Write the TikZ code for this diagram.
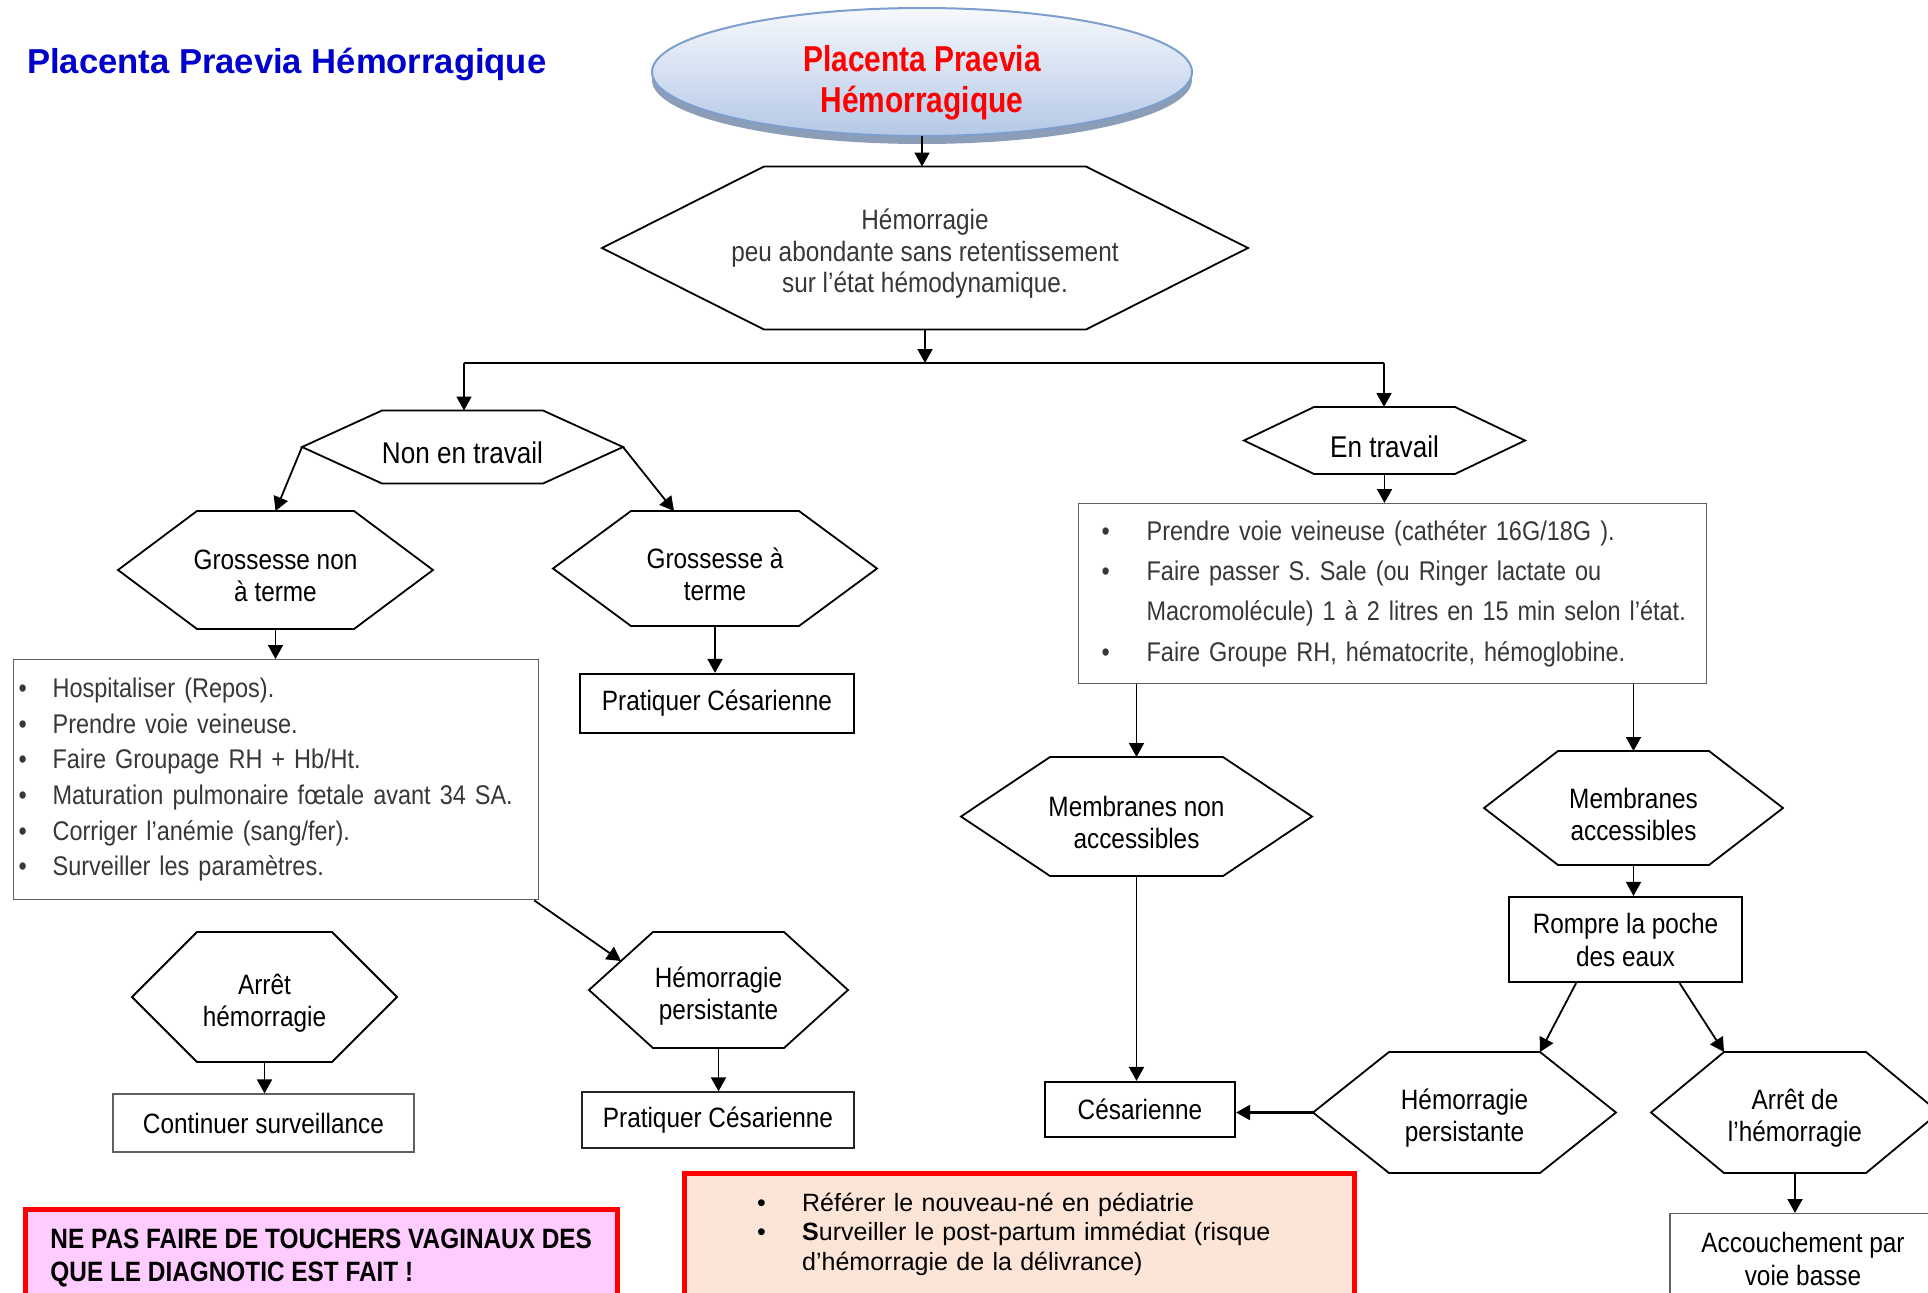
\documentclass[tikz,border=0pt]{standalone}
\usepackage{fontspec}
\setmainfont{Liberation Sans}[FakeStretch=0.87]
\newfontfamily\plainsans{Liberation Sans}
\newfontfamily\redsans{Liberation Sans}[FakeStretch=0.83]
\usetikzlibrary{arrows.meta,shapes.geometric,shadows,calc}

\definecolor{titleblue}{RGB}{0,0,204}
\definecolor{pinkfill}{RGB}{255,204,255}
\definecolor{peachfill}{RGB}{252,229,214}
\definecolor{ellborder}{RGB}{126,158,206}
\definecolor{elltop}{RGB}{246,249,253}
\definecolor{ellbottom}{RGB}{180,200,230}
\definecolor{ellshadow}{RGB}{128,146,176}
\definecolor{textgray}{RGB}{55,55,55}

% hexagon: [node options]{name}{cx}{cy}{half width}{inset}{half height}{text}
\newcommand{\flowhex}[8][]{%
  \coordinate (#2-w) at ({#3-#5},#4);
  \coordinate (#2-e) at ({#3+#5},#4);
  \coordinate (#2-nw) at ({#3-#5+#6},{#4-#7});
  \coordinate (#2-ne) at ({#3+#5-#6},{#4-#7});
  \coordinate (#2-se) at ({#3+#5-#6},{#4+#7});
  \coordinate (#2-sw) at ({#3-#5+#6},{#4+#7});
  \coordinate (#2-n) at (#3,{#4-#7});
  \coordinate (#2-s) at (#3,{#4+#7});
  \draw[hexline] (#2-w) -- (#2-nw) -- (#2-ne) -- (#2-e) -- (#2-se) -- (#2-sw) -- cycle;
  \node[hexlabel,#1] (#2) at (#3,#4) {#8};
}
\newcommand{\puce}[1]{\makebox[#1][l]{•}}

\begin{document}
\begin{tikzpicture}[x=1pt,y=-1pt,
  hexline/.style={draw=black,line width=1.8pt,line join=miter},
  hexlabel/.style={font=\fontsize{28}{32}\selectfont,align=center,inner sep=0pt,yshift=-6pt},
  fleche/.style={-{Triangle[length=14pt,width=15pt]},line width=1.8pt},
  boite/.style={draw=black,line width=2.2pt,inner sep=0pt,font=\fontsize{28}{33}\selectfont,align=center},
  boitegrise/.style={draw=gray!75!black,line width=1.2pt,inner sep=0pt,font=\fontsize{28}{33}\selectfont,align=center},
  liste/.style={draw=gray!75!black,line width=1.2pt,anchor=north west,align=left,text=textgray}]

\useasboundingbox (0,0) rectangle (1928,1293);
\clip (0,0) rectangle (1928,1293);

% title and top ellipse
\node[anchor=west,inner sep=0pt,text=titleblue,font=\plainsans\bfseries\fontsize{34.6}{40}\selectfont] (ttl) at (27,64) {Placenta Praevia Hémorragique};

\node[ellipse,minimum width=540pt,minimum height=128pt,inner sep=0pt,outer sep=0pt,
  draw=ellborder,line width=2pt,top color=elltop,bottom color=ellbottom,
  drop shadow={shadow xshift=0pt,shadow yshift=-8pt,fill=ellshadow,opacity=0.9}] (pp) at (922,72) {};
\node[align=center,inner sep=0pt,text=red,font=\redsans\bfseries\fontsize{36}{41}\selectfont] (ppt) at (922,83) {Placenta Praevia\\Hémorragique};

% hexagons
\flowhex[text=textgray,font=\fontsize{28}{31.5}\selectfont]{hem}{925}{248}{323}{162}{81.5}{Hémorragie\\peu abondante sans retentissement\\sur l’état hémodynamique.}
\flowhex[font=\fontsize{30}{34}\selectfont]{net}{462.5}{447}{160.5}{80}{36.5}{Non en travail}
\flowhex{gnt}{275.5}{570}{157.5}{79}{59}{Grossesse non\\à terme}
\flowhex{gat}{715}{568.5}{162}{78}{57.5}{Grossesse à\\terme}
\flowhex{ah}{264.5}{997}{132.5}{65}{65}{Arrêt\\hémorragie}
\flowhex{hp1}{718.5}{990}{129.5}{64}{58}{Hémorragie\\persistante}
\flowhex[font=\fontsize{30}{34}\selectfont]{et}{1384.5}{440.5}{140.5}{70}{33.5}{En travail}
\flowhex{mna}{1136.5}{816.5}{175.5}{89}{59.5}{Membranes non\\accessibles}
\flowhex{ma}{1633.5}{808}{149.5}{74}{57}{Membranes\\accessibles}
\flowhex{hp2}{1464.5}{1112.5}{151.5}{76}{60.5}{Hémorragie\\persistante}
\flowhex{ad}{1795}{1112.5}{144}{73}{60.5}{Arrêt de\\l’hémorragie}

% lists
\node[liste,inner xsep=5pt,inner ysep=18.5pt,text width=515pt,font=\fontsize{27}{35.6}\selectfont] (lst1) at (13,659)
  {\puce{34pt}Hospitaliser (Repos).\\
   \puce{34pt}Prendre voie veineuse.\\
   \puce{34pt}Faire Groupage RH + Hb/Ht.\\
   \puce{34pt}Maturation pulmonaire fœtale avant 34 SA.\\
   \puce{34pt}Corriger l’anémie (sang/fer).\\
   \puce{34pt}Surveiller les paramètres.};
\node[liste,inner xsep=23pt,inner ysep=17pt,text width=582pt,font=\fontsize{27}{40.2}\selectfont] (lst2) at (1078,503)
  {\puce{45pt}Prendre voie veineuse (cathéter 16G/18G ).\\
   \puce{45pt}Faire passer S. Sale (ou Ringer lactate ou\\
   \hspace*{45pt}\mbox{Macromolécule) 1 à 2 litres en 15 min selon l’état.}\\
   \puce{45pt}Faire Groupe RH, hématocrite, hémoglobine.};

% boxes
\node[boite,minimum width=274pt,minimum height=59pt] (pc1) at (717,703.5) {Pratiquer Césarienne};
\node[boitegrise,minimum width=301pt,minimum height=58pt] (ctn) at (263.5,1123) {Continuer surveillance};
\node[boitegrise,draw=black!85,minimum width=272pt,minimum height=56pt] (pc2) at (718,1120) {Pratiquer Césarienne};
\node[boite,minimum width=233pt,minimum height=85pt] (rp) at (1625.5,939.5) {Rompre la poche\\des eaux};
\node[boite,minimum width=190pt,minimum height=55pt] (ces) at (1140,1109.5) {Césarienne};
\node[boitegrise,minimum width=266pt,minimum height=90pt,anchor=north] (acc) at (1803,1213) {Accouchement par\\voie basse};

% warning boxes at the bottom
\filldraw[draw=red,fill=pinkfill,line width=5pt] (25,1209) rectangle (617,1320);
\node[anchor=north west,minimum width=592pt,minimum height=98pt,inner sep=0pt,align=left,
  font=\bfseries\fontsize{28}{33}\selectfont] (box2) at (25,1209)
  {NE PAS FAIRE DE TOUCHERS VAGINAUX DES\\QUE LE DIAGNOTIC EST FAIT !};
\filldraw[draw=red,fill=peachfill,line width=5pt] (684,1173) rectangle (1354,1320);
\node[anchor=north west,minimum height=122pt,inner xsep=73pt,inner ysep=0pt,text width=524pt,align=left,
  font=\plainsans\fontsize{25}{29.5}\selectfont] (box3) at (684,1173)
  {\puce{45pt}Référer le nouveau-né en pédiatrie\\
   \puce{45pt}\textbf{S}urveiller le post-partum immédiat (risque\\
   \hspace*{45pt}d’hémorragie de la délivrance)};

% connectors
\coordinate (split) at (925,363);
\coordinate (splitL) at (464,363);
\coordinate (splitR) at (1384,363);
\draw[fleche] (pp.south) -- (pp.south |- hem-n);
\draw[fleche] (hem-s) -- (split);
\draw[line width=2.2pt] (splitL) -- (splitR);
\draw[fleche] (splitL) -- (splitL |- net-n);
\draw[fleche] (splitR) -- (splitR |- et-n);
\draw[fleche] (net-w) -- (gnt-n);
\draw[fleche] (net-e) -- ($(gat-nw)+(43,0)$);
\draw[fleche] (gnt-s) -- (gnt-s |- lst1.north);
\draw[fleche] (gat-s) -- (gat-s |- pc1.north);
\draw[fleche] ([xshift=-5pt]lst1.south east) -- ($(hp1-w)!0.5!(hp1-nw)$);
\draw[fleche] (ah-s) -- (ah-s |- ctn.north);
\draw[fleche] (hp1-s) -- (hp1-s |- pc2.north);
\draw[fleche] (et-s) -- (et-s |- lst2.north);
\draw[fleche] (mna-n |- lst2.south) -- (mna-n);
\draw[fleche] (ma-n |- lst2.south) -- (ma-n);
\draw[fleche] (ma-s) -- (ma-s |- rp.north);
\draw[fleche] ($(rp.south west)!0.29!(rp.south east)$) -- (hp2-ne);
\draw[fleche] ($(rp.south west)!0.73!(rp.south east)$) -- (ad-nw);
\draw[fleche,line width=2.2pt] (hp2-w) -- (hp2-w -| ces.east);
\draw[fleche] (mna-s) -- (mna-s |- ces.north);
\draw[fleche] (ad-s) -- (ad-s |- acc.north);
\end{tikzpicture}
\end{document}
